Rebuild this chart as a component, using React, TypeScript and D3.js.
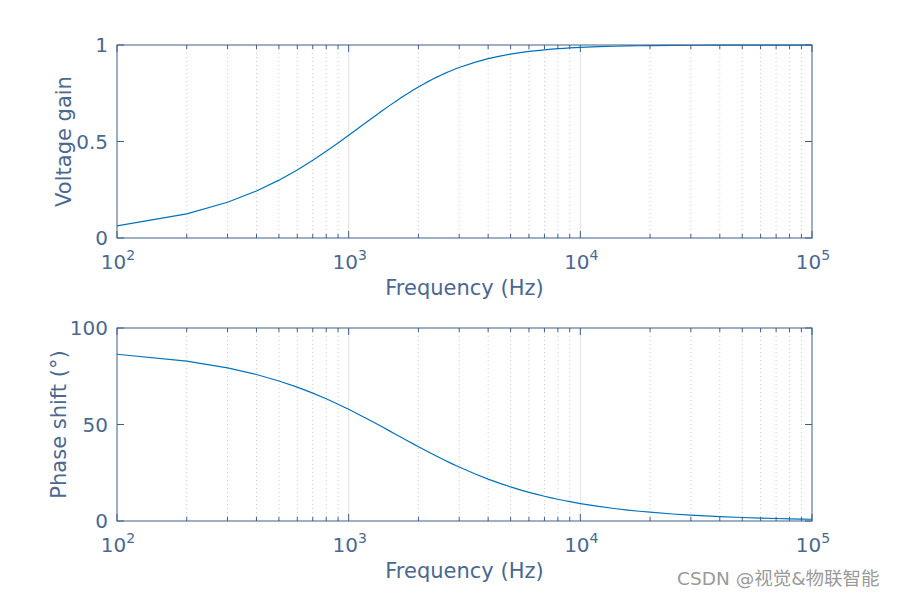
import React from "react";
import * as d3 from "d3";

const freqs = [100,200,300,400,500,600,700,800,900,1000,1100,1200,1300,1400,1500,1600,1700,1800,1900,2000,2100,2200,2300,2400,2500,2600,2700,2800,2900,3000,3500,4000,4500,5000,5500,6000,6500,7000,7500,8000,8500,9000,9500,10000,12000,14000,16000,18000,20000,25000,30000,40000,50000,60000,70000,80000,90000,100000];
const gain = [0.0627,0.1247,0.1852,0.2438,0.2997,0.3528,0.4026,0.4491,0.4922,0.532,0.5686,0.602,0.6326,0.6605,0.6859,0.709,0.73,0.7491,0.7666,0.7825,0.797,0.8102,0.8223,0.8334,0.8436,0.8529,0.8615,0.8694,0.8767,0.8834,0.9103,0.9291,0.9428,0.9529,0.9606,0.9666,0.9713,0.9751,0.9782,0.9808,0.9829,0.9847,0.9863,0.9876,0.9913,0.9936,0.9951,0.9961,0.9968,0.998,0.9986,0.9992,0.9995,0.9996,0.9997,0.9998,0.9998,0.9999];
const phase = [86.4,82.84,79.33,75.89,72.56,69.34,66.26,63.31,60.51,57.86,55.35,52.98,50.76,48.66,46.7,44.85,43.11,41.48,39.95,38.51,37.16,35.88,34.68,33.55,32.48,31.47,30.52,29.62,28.76,27.94,24.45,21.7,19.48,17.66,16.14,14.86,13.76,12.81,11.98,11.25,10.61,10.03,9.51,9.04,7.55,6.49,5.68,5.05,4.55,3.64,3.04,2.28,1.82,1.52,1.3,1.14,1.01,0.91];
const decadeExps = [2, 3, 4, 5];
const gainTicks = [0, 0.5, 1];
const gainTickLabels = ["0", "0.5", "1"];
const phaseTicks = [0, 50, 100];
const phaseTickLabels = ["0", "50", "100"];

const AX = "#3d5f8c";
const TXT = "#4a6890";
const LINE = "#0072BD";
const FONT = "DejaVu Sans, sans-serif";

const x0 = 117, x1 = 812;

function Panel({ top, bottom, yDomain, yTicks, yLabels, vals, ylabel, ylabelX }: any) {
  const x = d3.scaleLog().domain([100, 100000]).range([x0, x1]);
  const y = d3.scaleLinear().domain(yDomain).range([bottom, top]);
  const minors: number[] = [];
  for (let e = 2; e < 5; e++) for (let k = 2; k <= 9; k++) minors.push(k * Math.pow(10, e));
  const majors = decadeExps.map((e) => Math.pow(10, e));
  const line = d3.line<number>().x((_, i) => x(freqs[i])).y((d) => y(d));
  return (
    <g>
      {minors.map((m) => (
        <line key={"g" + m} x1={x(m)} x2={x(m)} y1={top} y2={bottom} stroke="#c3cddb" strokeWidth={1} strokeDasharray="1,3" />
      ))}
      {majors.slice(1, -1).map((m) => (
        <line key={"G" + m} x1={x(m)} x2={x(m)} y1={top} y2={bottom} stroke="#e0e0e0" strokeWidth={1} />
      ))}
      <path d={line(vals) || ""} fill="none" stroke={LINE} strokeWidth={1.2} />
      <rect x={x0} y={top} width={x1 - x0} height={bottom - top} fill="none" stroke={AX} strokeWidth={1} />
      {minors.map((m) => (
        <g key={"t" + m}>
          <line x1={x(m)} x2={x(m)} y1={bottom} y2={bottom - 4} stroke={AX} />
          <line x1={x(m)} x2={x(m)} y1={top} y2={top + 4} stroke={AX} />
        </g>
      ))}
      {majors.map((m, i) => (
        <g key={"T" + m}>
          <line x1={x(m)} x2={x(m)} y1={bottom} y2={bottom - 7} stroke={AX} />
          <line x1={x(m)} x2={x(m)} y1={top} y2={top + 7} stroke={AX} />
          <text x={x(m) + 1} y={bottom + 31} fill={TXT} fontFamily={FONT} fontSize={20} textAnchor="middle">
            10<tspan dy={-9} fontSize={14}>{decadeExps[i]}</tspan>
          </text>
        </g>
      ))}
      {yTicks.map((t: number, i: number) => (
        <g key={"y" + t}>
          <line x1={x0} x2={x0 + 7} y1={y(t)} y2={y(t)} stroke={AX} />
          <line x1={x1} x2={x1 - 7} y1={y(t)} y2={y(t)} stroke={AX} />
          <text x={x0 - 9} y={y(t) + 7} fill={TXT} fontFamily={FONT} fontSize={20} textAnchor="end">{yLabels[i]}</text>
        </g>
      ))}
      <text x={(x0 + x1) / 2} y={bottom + 57} fill={TXT} fontFamily={FONT} fontSize={21} textAnchor="middle">Frequency (Hz)</text>
      <text transform={`translate(${ylabelX},${(top + bottom) / 2}) rotate(-90)`} fill={TXT} fontFamily={FONT} fontSize={21} textAnchor="middle">{ylabel}</text>
    </g>
  );
}

export default function App() {
  return (
    <svg width={898} height={597} style={{ position: "absolute", left: 0, top: 0, background: "#fff" }}>
      <rect width={898} height={597} fill="#fff" />
      <Panel top={45} bottom={238} yDomain={[0, 1]} yTicks={gainTicks} yLabels={gainTickLabels} vals={gain} ylabel="Voltage gain" ylabelX={71} />
      <Panel top={328} bottom={521} yDomain={[0, 100]} yTicks={phaseTicks} yLabels={phaseTickLabels} vals={phase} ylabel="Phase shift (°)" ylabelX={66} />
      <text x={677} y={585} fill="#9a9a9a" fontFamily="DejaVu Sans, Noto Sans CJK SC, sans-serif" fontSize={18.5}>CSDN @视觉&amp;物联智能</text>
    </svg>
  );
}
